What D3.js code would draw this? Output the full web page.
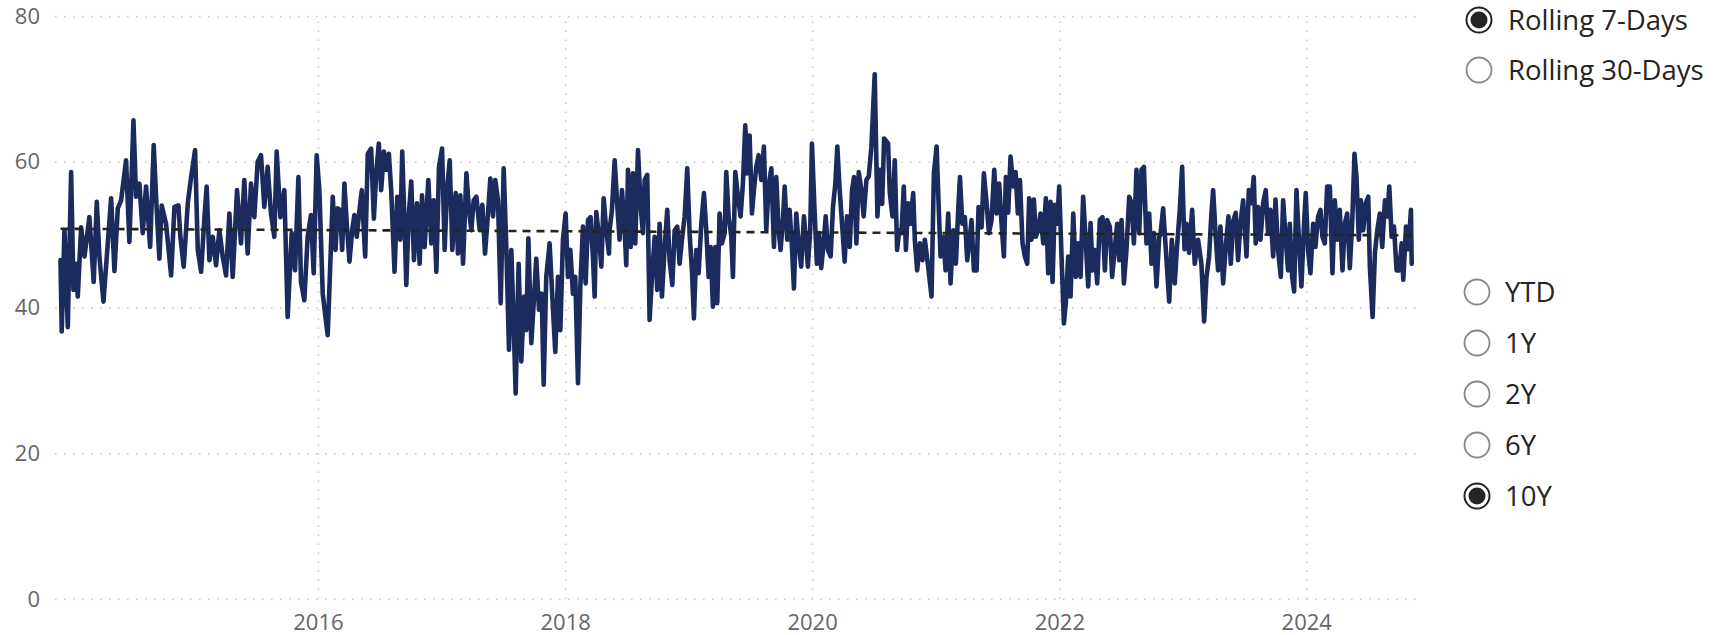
<!DOCTYPE html>
<html><head><meta charset="utf-8">
<script src="https://cdn.jsdelivr.net/npm/d3@7"></script>
<style>
html,body{margin:0;padding:0;background:#fff;}
svg{display:block;font-family:"Segoe UI","Open Sans",sans-serif;}
</style></head><body>
<svg id="chart" width="1726" height="635"></svg>
<script>
// Dates as decimal years (rolling 7-day series)
const dates = [
2013.915,2013.925,2013.947,2013.974,2014.001,2014.020,2014.041,2014.055,2014.082,2014.109,
2014.149,2014.184,2014.209,2014.230,2014.263,2014.298,2014.325,2014.352,2014.379,2014.406,
2014.446,2014.473,2014.506,2014.527,2014.554,2014.581,2014.608,2014.641,2014.670,2014.689,
2014.716,2014.735,2014.770,2014.811,2014.838,2014.870,2014.886,2014.913,2014.946,2014.973,
2015.005,2015.027,2015.054,2015.081,2015.099,2015.121,2015.148,2015.175,2015.202,2015.229,
2015.256,2015.283,2015.310,2015.345,2015.377,2015.404,2015.431,2015.458,2015.485,2015.512,
2015.539,2015.566,2015.593,2015.620,2015.647,2015.666,2015.696,2015.728,2015.755,2015.788,
2015.815,2015.842,2015.863,2015.890,2015.917,2015.944,2015.966,2015.990,2016.012,2016.039,
2016.079,2016.120,
2016.142,2016.160,2016.179,2016.196,2016.214,2016.233,2016.255,2016.277,2016.295,2016.314,
2016.336,2016.355,2016.382,2016.403,2016.430,2016.452,2016.471,2016.492,2016.511,2016.533,
2016.552,2016.573,2016.592,2016.619,2016.641,2016.665,2016.681,2016.700,2016.714,2016.733,
2016.754,2016.776,2016.800,2016.822,2016.841,2016.862,2016.892,2016.916,2016.935,2016.957,
2016.978,2017.003,2017.024,2017.043,2017.065,2017.086,2017.113,2017.132,2017.151,2017.173,
2017.200,2017.221,2017.240,2017.259,2017.281,2017.308,2017.329,2017.351,2017.375,2017.394,
2017.416,2017.434,2017.456,2017.478,2017.502,2017.524,2017.545,2017.564,2017.583,2017.599,
2017.623,2017.645,2017.667,2017.685,2017.702,2017.726,2017.745,2017.766,2017.788,2017.810,
2017.826,2017.847,2017.874,2017.896,2017.920,2017.942,2017.961,2017.982,2018.004,2018.023,
2018.042,2018.063,2018.082,2018.104,2018.123,2018.144,2018.166,2018.185,2018.206,2018.225,
2018.239,2018.252,2018.274,2018.293,2018.312,2018.333,2018.355,
2018.360,2018.379,2018.401,2018.423,2018.441,2018.460,2018.477,2018.495,2018.509,2018.531,
2018.549,2018.568,2018.590,2018.612,2018.630,2018.644,2018.665,2018.684,2018.703,2018.725,
2018.746,2018.765,2018.784,2018.806,2018.827,2018.846,2018.868,2018.887,2018.908,2018.927,
2018.946,2018.968,2018.989,2019.008,2019.027,2019.043,2019.062,2019.081,2019.103,2019.124,
2019.143,2019.162,2019.178,2019.197,2019.216,2019.232,2019.251,2019.270,2019.292,2019.305,
2019.324,2019.346,2019.359,2019.378,2019.400,2019.421,2019.440,2019.459,2019.475,2019.494,
2019.513,2019.529,2019.548,2019.567,2019.589,2019.610,2019.629,2019.648,2019.670,2019.691,
2019.710,2019.729,2019.745,2019.764,2019.778,2019.799,2019.818,2019.837,2019.853,2019.872,
2019.891,2019.912,2019.934,2019.953,2019.966,2019.985,2019.999,2020.020,2020.039,2020.056,
2020.074,2020.093,2020.110,2020.128,2020.150,2020.169,2020.188,2020.204,2020.223,2020.242,
2020.263,2020.282,2020.304,2020.323,2020.339,2020.358,2020.377,2020.398,2020.417,2020.439,
2020.458,2020.479,2020.506,2020.528,2020.547,2020.566,2020.582,
2020.614,2020.628,2020.650,2020.668,2020.687,2020.704,2020.722,2020.741,2020.758,2020.776,
2020.795,2020.817,2020.830,2020.849,2020.871,2020.892,2020.911,2020.938,2020.965,2020.984,
2021.006,2021.022,2021.038,2021.060,2021.079,2021.100,2021.119,2021.141,2021.162,2021.181,
2021.195,2021.214,2021.235,2021.254,2021.270,2021.289,2021.308,2021.330,2021.346,2021.370,
2021.389,2021.411,2021.430,2021.451,2021.473,2021.492,2021.513,2021.532,2021.551,2021.567,
2021.586,2021.605,2021.627,2021.646,2021.664,2021.681,2021.702,2021.721,2021.740,2021.756,
2021.775,2021.794,2021.810,2021.829,2021.848,2021.870,2021.891,2021.910,2021.929,2021.945,
2021.964,2021.983,2021.999,2022.018,2022.037,2022.053,2022.072,2022.091,2022.113,2022.134,
2022.153,2022.172,2022.193,2022.215,2022.234,2022.253,2022.269,2022.288,2022.307,2022.328,
2022.350,2022.369,2022.388,2022.409,2022.428,2022.450,2022.469,2022.485,2022.504,2022.523,
2022.544,2022.566,2022.585,2022.604,2022.625,2022.647,2022.666,2022.685,2022.706,2022.728,
2022.747,2022.766,2022.787,2022.809,
2022.819,2022.841,2022.863,2022.890,2022.911,2022.935,2022.954,2022.976,2022.995,2023.014,
2023.030,2023.051,2023.076,2023.097,2023.124,2023.151,2023.173,2023.192,2023.213,2023.232,
2023.246,2023.267,2023.286,2023.305,2023.327,2023.348,2023.370,2023.389,2023.408,2023.429,
2023.448,2023.467,2023.489,2023.516,2023.535,2023.556,2023.575,2023.591,2023.610,2023.629,
2023.651,2023.672,2023.691,2023.710,2023.732,2023.751,2023.772,2023.794,2023.813,2023.834,
2023.853,2023.867,2023.886,2023.902,2023.921,2023.942,2023.961,2023.980,2023.996,2024.015,
2024.034,2024.056,2024.074,2024.096,2024.115,2024.131,2024.150,2024.169,2024.191,2024.212,
2024.231,2024.250,2024.271,2024.293,2024.312,2024.331,2024.352,2024.371,2024.390,2024.406,
2024.425,2024.442,2024.460,2024.482,2024.501,2024.514,2024.536,2024.555,2024.574,2024.595,
2024.614,2024.636,2024.655,2024.671,2024.690,2024.709,2024.730,2024.752,2024.771,2024.784,
2024.806,2024.825,2024.846,2024.852
];
const values = [
46.5,36.7,50.6,37.3,58.6,42.4,46,41.5,51,47,
52.4,43.5,54.5,47,40.8,48.8,55,45,53.6,54.7,
60.2,49,65.7,55.2,57,50.2,56.6,48.3,62.3,55.2,
46.7,54,51.5,44.4,53.8,54,49.7,45.6,54.3,57.9,
61.6,47.9,44.9,52.4,56.6,46.5,49.7,45.8,50.6,47,
44.4,52.9,44.2,56.1,48.8,57.5,47.4,57,52.4,60,
60.9,53.8,59.3,52.9,49.7,61.4,52.4,56.1,38.7,50.2,
45.1,57.9,43.5,41,49.7,52.7,44.7,60.9,56.1,41.9,
36.2,55.2,
47.9,53.6,53.4,47.9,57,51.5,46.3,50.6,52.7,49.7,
53.4,56.1,47,61.1,61.8,52.2,58.4,62.5,56.1,61.4,
58.9,61.1,56.1,44.9,55.2,49.3,61.4,51.5,43.1,52.4,
57.3,46.5,54.3,46,55.4,48.3,57.5,48.8,54.7,44.9,
59.3,61.8,47.9,56.1,60.2,47.9,55.7,47.4,55.4,46,
58.4,53.4,50.6,54.7,55.2,50.6,54.1,47.4,52.9,57.7,
52.5,57.5,54.7,40.6,59.1,47.9,34.2,47.9,37.8,28.2,
46,32.6,41.5,36.9,49.5,35.1,40.6,46.7,39.7,41.9,
29.4,44.2,48.8,41.5,33.9,44.2,36.9,49.3,52.9,44.2,
47.9,41.9,44.2,29.6,42.9,51.1,43.3,52,52.4,47,
41.5,53.1,49.7,45.6,55,50.6,47.4,
50.6,53.4,60.2,53.8,49.3,56.1,52.4,45.8,58.9,48.3,
58.4,48.8,61.6,53.8,50.2,57.5,58.2,38.3,44.2,49.7,
42.4,51.5,41.5,48.3,53.4,46.5,43.1,50.6,51.1,46,
49.3,52.5,59.1,50.2,45.1,38.5,47.9,44.7,51.5,55.7,
50.6,44.2,48.3,40.1,48.3,40.6,52.9,48.8,50.2,58.6,
52.5,49.7,44.2,58.6,55.2,52.5,57,65,58.4,63.6,
52.9,56.1,59.3,60.9,57.5,62.1,50.6,56.6,59.1,48.3,
57.9,50.6,47.9,52,56.6,49.3,53.4,48.3,42.6,52.9,
48.8,45.6,52.5,48.8,45.6,50.6,62.5,53.4,46,50.2,
45.4,48.8,52.5,47.9,47,53.8,57,62.1,56.1,51.5,
46.3,52.5,48.3,56.1,57.9,48.8,58.6,56.1,52.5,57.5,
58,62,72,52.5,58.9,54.2,63.2,
62.5,55.7,52.5,60.2,47.9,50.6,50.2,56.6,47.9,54.3,
51.5,55.7,49.3,45.1,48.8,46.5,49.3,45.6,41.5,58.4,
62.1,54.3,47,49.7,45.1,52.9,43.3,50.6,46,53.4,
57.9,51.5,52.4,46.5,48.8,52,45.1,45.1,53.8,51,
58.4,54.3,50.2,52,58.9,52.9,57,51.5,47,57.9,
53,60.7,56.6,58.6,52.9,57.5,48.8,47,46,55,
49.3,54.8,49.7,50.6,52.9,48.8,55,44.7,54.5,43.5,
54.1,51.5,56.6,47,37.8,40.6,47,41.5,52.9,44.2,
48.8,44.2,55.2,48.8,42.9,51.6,45.1,47.9,43.3,52,
52.4,45.1,52,51.1,44.2,48.3,51.5,46.5,52,43.3,
47.9,55.2,54.3,48.8,58.9,50.2,58.9,59.3,48.8,52.9,
46,50.2,42.9,49.7,
50,53.6,47.9,40.8,49.3,43.3,48.5,53.4,59.3,48,
51.5,47.5,53.4,46,49.3,46,38.1,44.2,47,52.9,
56.1,49.7,45.1,51.1,43.3,48.3,52.5,46,51.8,53,
46.5,51.5,54.7,47,56.1,54.3,57.9,48.8,53.8,49.3,
54.3,56.1,50.2,53.4,47,54.8,47.9,44.2,54.7,49.3,
45.1,51.5,44.2,42.2,56.1,48.8,42.9,50.6,55.7,47.9,
44.7,51.5,48.3,52.5,53.4,49.7,48.8,56.6,56.6,44.7,
54.7,49.3,53.4,45.1,51.5,52.9,45.4,51.5,61.1,57.9,
49.3,54.7,50.6,54.3,55.2,45.6,38.7,47.5,50.6,52.9,
48.3,54.7,52.5,56.6,49.7,51.1,45.1,45.1,48.8,43.8,
51.1,48,53.4,46
];
// Trend (dashed) line values at first and last date
const trendValues = [50.8, 49.9];
const yTickValues = [0, 20, 40, 60, 80];
const xTickYears = [2016, 2018, 2020, 2022, 2024];
const windowOptions = ["Rolling 7-Days", "Rolling 30-Days"];
const windowSelected = "Rolling 7-Days";
const rangeOptions = ["YTD", "1Y", "2Y", "6Y", "10Y"];
const rangeSelected = "10Y";

function toDate(dec) {
  const yr = Math.floor(dec);
  const a = new Date(yr, 0, 1), b = new Date(yr + 1, 0, 1);
  return new Date(+a + (dec - yr) * (b - a));
}

const n = Math.min(dates.length, values.length);
const series = d3.range(n).map(i => ({ date: toDate(dates[i]), value: values[i] }));

const svg = d3.select("#chart");
const plotLeft = 55, plotRight = 1420, plotTop = 16, plotBottom = 599;

const x = d3.scaleTime()
  .domain([series[0].date, series[n - 1].date])
  .range([60.5, 1411.7]);
const y = d3.scaleLinear().domain([0, 80]).range([plotBottom, plotTop]);

const gridColor = "#c8c8c8";
const labelColor = "#666666";

// Y axis + horizontal gridlines
const yAxis = svg.append("g")
  .attr("transform", `translate(${plotLeft},0)`)
  .call(d3.axisLeft(y).tickValues(yTickValues).tickSize(-(plotRight - plotLeft)).tickPadding(15));
yAxis.select(".domain").remove();
yAxis.selectAll(".tick line")
  .attr("stroke", gridColor).attr("stroke-width", 1.6).attr("stroke-dasharray", "1.6,7.4");
yAxis.selectAll(".tick text")
  .attr("fill", labelColor).style("font-size", "22px").style("font-family", "'Segoe UI','Open Sans',sans-serif");

// X axis + vertical gridlines
const xAxis = svg.append("g")
  .attr("transform", `translate(0,${plotBottom})`)
  .call(d3.axisBottom(x)
    .tickValues(xTickYears.map(yr => new Date(yr, 0, 1)))
    .tickFormat(d3.timeFormat("%Y"))
    .tickSize(-(plotBottom - plotTop))
    .tickPadding(15));
xAxis.select(".domain").remove();
xAxis.selectAll(".tick line")
  .attr("stroke", gridColor).attr("stroke-width", 1.6).attr("stroke-dasharray", "1.6,7.4");
xAxis.selectAll(".tick text")
  .attr("fill", labelColor).style("font-size", "22px").style("font-family", "'Segoe UI','Open Sans',sans-serif");

// Main series line
const line = d3.line().x(d => x(d.date)).y(d => y(d.value));
svg.append("path")
  .datum(series)
  .attr("fill", "none")
  .attr("stroke", "#1b2b5e")
  .attr("stroke-width", 4.6)
  .attr("stroke-linejoin", "round")
  .attr("stroke-linecap", "round")
  .attr("d", line);

// Trend (dashed) line
const trend = [
  { date: series[0].date, value: trendValues[0] },
  { date: series[n - 1].date, value: trendValues[1] }
];
svg.append("path")
  .datum(trend)
  .attr("fill", "none")
  .attr("stroke", "#252423")
  .attr("stroke-width", 2.6)
  .attr("stroke-dasharray", "8,6")
  .attr("d", line);

// Radio button groups
function radioGroup(options, selected, cx, cy0, step, textX) {
  const g = svg.append("g");
  const items = g.selectAll("g.item").data(options).join("g").attr("class", "item")
    .attr("transform", (d, i) => `translate(0,${cy0 + i * step})`);
  items.append("circle")
    .attr("cx", cx).attr("cy", 0).attr("r", 12.5)
    .attr("fill", "#fff")
    .attr("stroke", d => d === selected ? "#252423" : "#8a8886")
    .attr("stroke-width", d => d === selected ? 2 : 1.8);
  items.filter(d => d === selected).append("circle")
    .attr("cx", cx).attr("cy", 0).attr("r", 8.5).attr("fill", "#252423");
  items.append("text")
    .attr("x", textX).attr("y", 10)
    .attr("fill", "#252423")
    .style("font-size", "27.5px")
    .style("font-family", "'Segoe UI','Open Sans',sans-serif")
    .text(d => d);
}
radioGroup(windowOptions, windowSelected, 1479, 20, 50, 1508);
radioGroup(rangeOptions, rangeSelected, 1477, 292, 51, 1505);
</script>
</body></html>
